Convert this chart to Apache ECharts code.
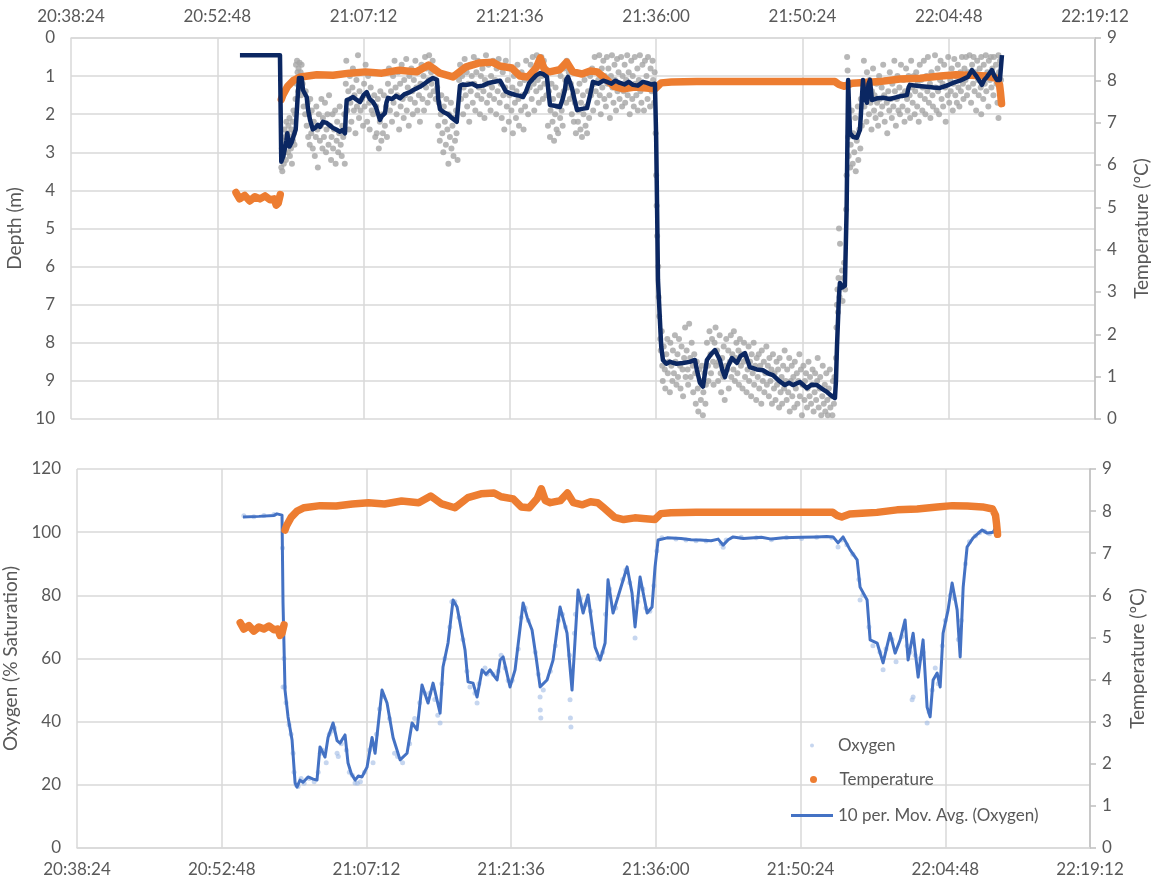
<!DOCTYPE html>
<html>
<head>
<meta charset="utf-8">
<title>Depth, oxygen and temperature</title>
<script src="https://cdn.jsdelivr.net/npm/echarts@6/dist/echarts.min.js"></script>
<style>
  html, body { margin: 0; background: #fff; }
  #chart { width: 1153px; height: 886px; }
</style>
</head>
<body>
<div id="chart"></div>
<script>
// all times are minutes after 20:00

// raw depth readings (m)
const depthRaw = [
  [59.1,3.4],[59.15,2.9],[59.2,3.5],[59.25,3.1],[59.3,2.7],[59.35,3.3],[59.4,2.4],[59.45,3.0],[59.5,2.6],[59.55,3.2],[59.6,2.2],[59.65,2.8],[59.7,2.5],[59.75,3.0],[59.8,2.3],[59.85,2.7],[59.9,2.1],[59.95,3.1],[60.0,2.6],[60.05,2.9],[60.1,2.4],[60.15,3.3],[60.2,2.2],[60.25,2.7],[60.3,1.9],[60.35,2.5],[60.4,2.8],[60.45,2.0],[60.5,1.6],[60.55,0.7],[60.6,1.2],[60.65,0.6],[60.7,0.9],[60.75,1.4],[60.8,0.8],[60.85,1.1],[60.9,0.65],[60.95,1.3],
  [61.0,0.9],[61.05,1.5],[61.1,0.7],[61.2,1.2],[61.3,1.8],[61.35,1.0],[61.45,2.0],[61.5,1.4],[61.6,2.3],[61.7,1.7],[61.75,2.6],[61.85,2.0],[61.9,2.8],[61.95,1.6],
  [62.05,2.5],[62.1,1.9],[62.2,2.9],[62.3,2.2],[62.4,3.1],[62.5,2.6],[62.55,1.8],[62.65,2.4],[62.7,3.4],[62.8,2.0],[62.9,2.7],[63.0,2.3],[63.05,1.6],[63.15,2.9],[63.2,2.1],[63.3,2.6],[63.4,1.7],[63.5,3.0],[63.55,2.4],[63.65,2.0],[63.75,2.8],[63.8,1.5],[63.9,2.3],[64.0,3.2],[64.05,2.6],[64.15,2.0],[64.2,2.9],[64.3,2.4],[64.4,1.9],[64.45,3.3],[64.55,2.7],[64.6,2.2],[64.7,3.0],[64.8,2.5],[64.85,1.8],[64.95,2.8],[65.05,3.1],[65.1,2.3],[65.2,2.6],[65.3,2.0],[65.35,3.3],
  [65.45,1.2],[65.5,0.6],[65.6,1.9],[65.7,1.4],[65.75,2.4],[65.85,1.0],[65.9,1.7],[66.0,2.2],[66.1,1.3],[66.15,0.8],[66.25,1.9],[66.3,1.5],[66.4,2.5],[66.5,1.1],[66.55,1.8],[66.65,0.45],[66.75,2.1],[66.8,1.4],[66.9,1.9],[67.0,0.9],[67.05,1.6],[67.15,2.3],[67.25,1.2],[67.3,1.8],[67.4,0.7],[67.5,1.5],[67.55,2.2],[67.65,1.0],[67.75,1.7],[67.8,2.4],[67.9,1.3],[68.0,1.9],[68.1,0.9],[68.15,2.0],[68.25,1.5],[68.35,2.6],
  [68.45,1.8],[68.5,2.5],[68.6,1.6],[68.7,2.9],[68.8,2.2],[68.85,1.4],[68.95,2.7],[69.05,2.0],[69.1,2.5],[69.2,1.5],[69.3,2.3],[69.4,1.8],[69.5,2.6],
  [69.6,1.2],[69.7,0.8],[69.8,1.9],[69.9,1.4],[70.0,2.2],[70.1,1.0],[70.15,1.7],[70.25,0.6],[70.35,1.3],[70.45,2.0],[70.5,1.5],[70.6,0.9],[70.7,2.4],[70.8,1.2],[70.85,1.8],[70.95,0.7],[71.05,1.6],[71.15,2.1],[71.2,1.1],[71.3,1.5],[71.4,0.55],[71.45,1.9],[71.55,1.3],[71.65,2.3],[71.7,1.0],[71.8,1.6],[71.9,0.8],[72.0,1.4],[72.05,2.0],[72.15,1.1],[72.25,1.7],[72.3,0.6],[72.4,1.3],[72.5,1.9],[72.55,0.9],[72.65,1.5],[72.75,2.2],[72.8,1.2],[72.9,0.7],[73.0,1.6],[73.1,1.0],[73.15,1.9],[73.25,0.5],[73.35,1.3],[73.4,0.8],[73.5,1.7],[73.6,1.1],[73.65,0.45],[73.75,1.5],[73.85,0.9],[73.9,1.2],[74.0,0.6],[74.1,1.4],[74.2,0.8],[74.3,1.6],
  [74.45,1.3],[74.55,2.3],[74.6,1.7],[74.7,2.7],[74.8,2.0],[74.85,1.5],[74.95,2.5],[75.05,3.0],[75.1,1.8],[75.2,2.2],[75.3,2.8],[75.35,1.6],[75.45,2.4],[75.55,3.3],[75.6,2.0],[75.7,2.6],[75.8,1.7],[75.85,2.9],[75.95,2.3],[76.05,3.1],[76.1,2.1],[76.2,2.7],[76.3,1.9],[76.35,2.5],[76.45,3.2],
  [76.6,1.1],[76.7,0.7],[76.8,1.6],[76.9,1.0],[77.0,2.0],[77.05,1.3],[77.15,0.55],[77.25,1.5],[77.35,0.9],[77.4,1.8],[77.5,1.2],[77.6,2.2],[77.7,0.7],[77.75,1.4],[77.85,1.0],[77.95,1.7],[78.05,0.5],[78.1,1.2],[78.2,1.9],[78.3,0.9],[78.4,1.5],[78.45,0.6],[78.55,1.3],[78.65,2.0],[78.75,1.0],[78.8,1.6],[78.9,0.8],[79.0,1.4],[79.1,2.1],[79.15,1.1],[79.25,0.45],[79.35,1.7],[79.45,1.2],[79.5,0.7],[79.6,1.5],[79.7,1.9],[79.75,1.0],[79.85,1.3],[79.95,0.6],[80.05,1.6],[80.15,1.1],[80.25,2.0],[80.3,0.8],[80.4,1.4],[80.5,0.55],
  [80.6,1.7],[80.7,1.2],[80.8,2.1],[80.9,0.9],[80.95,1.5],[81.05,2.4],[81.15,1.3],[81.2,0.6],[81.3,1.8],[81.4,1.1],[81.5,2.2],[81.55,1.5],[81.65,0.8],[81.75,1.9],[81.85,1.3],[81.9,2.5],[82.0,1.0],[82.1,1.7],[82.2,2.1],[82.25,1.4],[82.35,0.7],[82.45,1.6],[82.5,2.3],[82.6,1.2],[82.7,1.9],[82.75,0.9],[82.85,1.5],[82.95,2.4],[83.05,1.1],[83.1,1.8],[83.2,0.6],[83.3,1.4],[83.4,2.0],[83.45,1.0],
  [83.55,1.3],[83.65,0.7],[83.75,1.6],[83.85,0.5],[83.95,1.2],[84.0,1.9],[84.1,0.8],[84.2,1.4],[84.25,0.45],[84.35,1.1],[84.45,1.7],[84.5,0.7],[84.6,1.3],[84.7,0.5],[84.75,1.0],[84.85,1.6],[84.95,0.6],[85.0,1.2],[85.1,0.8],[85.2,1.5],
  [85.35,2.3],[85.45,1.4],[85.55,2.6],[85.6,1.9],[85.7,1.2],[85.8,2.2],[85.85,1.6],[85.95,2.7],[86.05,2.0],[86.1,1.3],[86.2,2.4],[86.3,1.8],[86.35,2.5],[86.45,1.5],[86.55,2.1],[86.6,1.0],[86.7,1.9],[86.8,2.3],
  [86.9,1.4],[86.95,0.8],[87.05,1.1],[87.15,1.7],[87.2,0.6],[87.3,1.3],[87.4,0.9],[87.5,1.6],[87.6,1.2],[87.7,2.0],[87.8,1.5],[87.9,2.2],
  [88.0,1.7],[88.1,2.5],[88.2,1.4],[88.3,2.2],[88.35,1.9],[88.45,1.2],[88.55,2.4],[88.6,1.7],[88.7,2.6],[88.8,1.5],[88.85,2.0],[88.95,1.1],[89.05,2.3],[89.1,1.8],[89.2,2.5],[89.3,1.4],[89.4,2.1],[89.5,1.0],
  [89.6,1.5],[89.7,0.8],[89.8,1.9],[89.9,1.2],[89.95,0.5],[90.05,1.4],[90.15,0.9],[90.2,1.7],[90.3,1.1],[90.4,0.45],[90.45,1.5],[90.55,2.0],[90.65,0.8],[90.7,1.3],[90.8,0.6],[90.9,1.6],[90.95,1.0],[91.05,1.8],[91.15,0.5],[91.2,1.2],[91.3,0.8],[91.4,1.5],[91.45,2.1],[91.55,1.0],[91.65,0.45],[91.7,1.3],[91.8,1.7],[91.9,0.7],[91.95,1.1],[92.05,1.9],[92.15,0.55],[92.2,1.4],[92.3,0.9],[92.4,1.6],[92.45,1.2],[92.55,0.5],[92.65,1.8],[92.7,1.0],[92.8,1.4],[92.9,0.7],[92.95,1.7],[93.05,1.1],[93.15,0.45],[93.2,1.5],[93.3,0.9],[93.4,2.0],[93.45,1.3],[93.55,0.6],[93.65,1.6],[93.7,1.0],[93.8,1.8],[93.9,0.5],[93.95,1.2],[94.05,1.5],[94.15,0.8],[94.2,1.9],[94.3,1.1],[94.4,0.45],[94.45,1.4],[94.55,1.7],[94.65,0.7],[94.7,1.2],[94.8,1.9],[94.9,0.6],[94.95,1.3],[95.05,1.0],[95.15,1.6],[95.2,0.5],[95.3,1.2],[95.4,1.8],[95.45,0.8],[95.55,1.4],[95.65,0.6],[95.7,1.1],[95.8,1.7],[95.85,0.9],
  [95.95,2.5],[96.0,3.6],[96.05,4.4],[96.1,5.2],[96.2,6.0],[96.25,6.8],[96.3,7.3],[96.4,7.9],[96.45,8.2],[96.55,7.7],
  [96.6,8.6],[96.65,9.0],[96.75,8.1],[96.85,8.7],[96.9,9.2],[97.0,8.3],[97.1,7.9],[97.15,8.8],[97.25,8.5],[97.35,9.3],[97.4,8.0],[97.5,8.6],[97.6,9.0],[97.65,8.2],[97.75,8.8],[97.85,7.8],[97.9,8.5],[98.0,9.1],[98.1,8.3],[98.15,8.9],[98.25,7.9],[98.35,8.6],[98.4,9.2],[98.5,8.1],[98.6,8.7],[98.65,9.4],[98.75,8.4],[98.85,7.6],[98.9,8.9],[99.0,8.2],[99.1,8.7],[99.15,9.1],[99.25,7.5],[99.35,8.4],[99.4,8.9],[99.5,8.0],[99.6,8.6],[99.65,9.3],[99.75,8.3],[99.85,8.8],[99.9,9.6],[100.0,8.5],[100.1,9.2],[100.15,9.8],[100.25,8.7],[100.35,9.0],[100.4,9.5],[100.5,8.6],[100.6,9.9],[100.65,9.3],[100.75,8.8],[100.85,9.6],[100.9,9.1],
  [101.0,8.0],[101.1,8.6],[101.15,9.0],[101.25,7.7],[101.35,8.3],[101.4,8.8],[101.5,7.9],[101.6,8.5],[101.65,9.1],[101.75,8.0],[101.85,7.6],[101.9,8.6],[102.0,8.2],[102.1,9.0],[102.15,8.5],[102.25,7.8],[102.35,8.8],[102.4,9.3],[102.5,8.4],[102.6,8.9],[102.65,8.1],[102.75,9.5],[102.85,8.6],[102.9,7.9],[103.0,8.7],[103.1,8.2],[103.15,9.2],[103.25,8.5],[103.35,7.8],[103.4,8.9],[103.5,8.3],[103.6,8.7],[103.65,7.7],[103.75,9.0],[103.85,8.4],[103.9,8.0],[104.0,8.8],[104.1,8.2],[104.15,9.1],[104.25,7.9],[104.35,8.6],[104.4,8.3],[104.5,9.2],[104.6,8.5],[104.65,8.0],[104.75,8.9],[104.85,8.4],[104.9,9.3],[105.0,8.7],[105.1,8.1],[105.15,9.0],[105.25,8.5],[105.35,9.4],[105.4,8.3],[105.5,8.8],[105.6,8.0],[105.65,9.1],[105.75,8.6],[105.85,9.5],[105.9,8.4],
  [106.0,8.9],[106.1,8.3],[106.15,9.2],[106.25,8.6],[106.35,9.6],[106.4,8.2],[106.5,9.0],[106.6,8.5],[106.65,9.3],[106.75,8.8],[106.85,8.1],[106.9,9.1],[107.0,8.6],[107.1,9.4],[107.15,8.4],[107.25,9.0],[107.35,8.7],[107.4,9.6],[107.5,8.3],[107.6,9.2],[107.65,8.8],[107.75,9.5],[107.85,8.5],[107.9,9.1],[108.0,8.7],[108.1,9.7],[108.15,8.4],[108.25,9.3],[108.35,8.9],[108.4,9.6],[108.5,8.6],[108.6,9.2],[108.65,8.2],[108.75,9.0],[108.85,9.5],[108.9,8.7],[109.0,9.3],[109.1,8.4],[109.15,9.8],[109.25,9.0],[109.35,8.6],[109.4,9.4],[109.5,8.9],[109.6,9.7],[109.65,8.5],[109.75,9.2],[109.85,8.8],[109.9,9.6],[110.0,9.0],[110.1,8.3],[110.15,9.4],[110.25,8.7],[110.35,9.9],[110.4,9.1],[110.5,8.6],[110.6,9.5],[110.65,9.0],[110.75,8.8],[110.85,9.7],[110.9,9.2],[111.0,8.5],[111.1,9.4],[111.15,8.9],[111.25,9.6],[111.35,9.1],[111.4,8.7],[111.5,9.8],[111.6,9.3],[111.65,8.8],[111.75,9.5],[111.85,9.0],[111.9,8.4],[112.0,9.7],[112.1,9.2],[112.15,8.9],[112.25,9.9],[112.35,9.4],[112.4,8.6],[112.5,9.6],[112.6,9.1],[112.65,9.8],[112.75,8.8],[112.85,9.5],[112.9,9.9],[113.0,9.2],[113.1,8.7],[113.15,9.7],[113.25,9.4],[113.35,9.9],[113.4,9.0],[113.5,9.6],[113.55,8.9],
  [113.7,8.4],[113.75,7.6],[113.8,7.0],[113.85,6.6],[113.9,7.2],[113.95,6.3],[114.0,5.0],[114.05,6.8],[114.1,5.4],[114.2,6.5],[114.3,6.1],[114.35,6.9],[114.45,6.3],[114.5,5.9],[114.6,6.6],[114.7,4.5],[114.75,3.6],[114.8,0.5],[114.85,0.85],
  [114.9,2.6],[114.95,3.1],[115.0,2.2],[115.1,3.4],[115.15,2.8],[115.25,1.9],[115.35,3.3],[115.4,2.5],[115.5,3.0],[115.6,2.1],[115.65,3.5],[115.75,2.7],[115.85,1.8],[115.9,3.2],[116.0,2.4],[116.1,2.9],[116.15,1.6],[116.25,2.3],
  [116.35,1.2],[116.45,0.6],[116.5,1.8],[116.6,1.3],[116.7,2.2],[116.75,0.9],[116.85,1.6],[116.95,2.0],[117.0,1.1],[117.1,1.7],[117.2,2.4],[117.25,1.4],[117.35,0.8],[117.45,1.9],[117.5,1.5],[117.6,2.1],[117.7,1.2],[117.75,1.7],[117.85,2.3],[117.95,1.0],[118.0,1.6],[118.1,2.0],[118.2,1.3],[118.25,1.8],[118.35,0.7],[118.45,1.5],[118.5,2.2],[118.6,1.1],[118.7,1.7],[118.75,2.5],[118.85,1.4],[118.95,1.9],[119.0,0.9],[119.1,1.6],[119.2,2.1],[119.25,1.2],[119.35,1.8],[119.45,0.6],[119.5,1.4],[119.6,2.3],[119.7,1.6],[119.75,1.0],[119.85,1.9],[119.95,1.3],[120.0,2.0],[120.1,0.7],[120.2,1.5],[120.25,1.8],[120.35,1.1],[120.45,2.2],[120.5,1.4],[120.6,0.8],[120.7,1.6],[120.75,1.9],[120.85,1.0],[120.95,1.5],[121.0,2.1],[121.1,0.6],[121.2,1.3],[121.25,1.7],[121.35,1.0],[121.45,2.0],[121.5,1.4],[121.6,0.9],[121.7,1.8],[121.75,1.2],[121.85,2.2],[121.95,0.7],[122.0,1.5],[122.1,1.1],[122.2,1.9],[122.25,1.3],[122.35,0.6],[122.45,1.6],[122.5,2.0],[122.6,1.0],[122.7,1.4],[122.75,0.5],[122.85,1.7],[122.95,1.2],[123.0,2.1],[123.1,0.9],[123.2,1.5],[123.25,1.8],[123.35,1.0],[123.45,0.45],[123.5,1.3],[123.6,1.9],[123.7,0.8],[123.75,1.4],[123.85,2.0],[123.95,1.1],[124.0,0.6],[124.1,1.6],[124.2,1.2],[124.25,1.8],[124.35,0.7],[124.45,1.3],[124.5,2.2],[124.6,1.0],[124.7,1.5],[124.75,0.5],[124.85,1.7],[124.95,1.1],[125.0,1.4],[125.1,0.8],[125.2,1.9],[125.25,1.2],[125.35,0.55],[125.45,1.5],[125.5,1.0],[125.6,1.7],[125.7,0.7],[125.75,1.3],[125.85,1.8],[125.95,0.9],[126.0,1.4],[126.1,0.5],[126.2,1.2],[126.25,1.6],[126.35,0.8],[126.45,1.1],[126.5,0.5],[126.6,1.5],[126.7,0.9],[126.75,1.3],[126.85,0.45],[126.95,1.0],[127.0,1.7],[127.1,0.7],[127.2,1.2],[127.25,0.5],[127.35,1.4],[127.45,0.9],[127.5,1.9],[127.6,0.6],[127.7,1.1],[127.75,1.5],[127.85,0.8],[127.95,1.3],[128.0,0.5],[128.0,2.0],[128.1,1.0],[128.2,1.6],[128.25,0.7],[128.35,1.2],[128.45,0.45],[128.5,1.4],[128.6,0.9],[128.7,1.8],[128.75,0.6],[128.85,1.1],[128.95,0.5],[129.0,1.3],[129.1,0.8],[129.2,1.5],[129.25,0.5],[129.35,1.0],[129.45,0.7],[129.5,1.2],[129.6,1.7],[129.7,0.45],[129.7,2.1],[129.75,0.9],[129.85,0.6],[129.95,1.1]
];

// 10-period moving average of depth (m)
const depthAvg = [
  [55.03,0.45],[58.97,0.45],[59.1,3.25],[59.3,3.1],[59.46,3.15],[59.6,2.7],[59.69,2.5],[59.9,2.85],[60.1,2.75],[60.25,2.8],[60.4,2.5],[60.52,2.4],[60.7,1.6],[60.84,1.05],[61.0,1.0],[61.11,1.05],[61.24,1.37],[61.4,1.4],[61.6,1.55],[61.75,1.9],[61.93,2.15],[62.2,2.4],[62.42,2.36],[62.7,2.28],[62.91,2.33],[63.2,2.2],[63.57,2.23],[63.9,2.3],[64.19,2.36],[64.5,2.4],[64.88,2.46],[65.1,2.42],[65.37,2.5],[65.45,2.0],[65.54,1.63],[65.8,1.6],[66.16,1.55],[66.5,1.62],[66.85,1.68],[67.2,1.5],[67.51,1.42],[67.8,1.6],[68.13,1.68],[68.4,1.8],[68.81,2.15],[69.0,2.05],[69.31,1.97],[69.45,1.7],[69.6,1.57],[70.0,1.6],[70.4,1.52],[70.78,1.58],[71.2,1.48],[71.77,1.42],[72.2,1.35],[72.75,1.28],[73.2,1.2],[73.6,1.12],[74.03,1.05],[74.43,1.1],[74.55,1.6],[74.72,1.87],[75.1,1.95],[75.51,2.0],[75.9,2.1],[76.37,2.2],[76.5,1.8],[76.69,1.25],[77.0,1.22],[77.35,1.23],[77.9,1.2],[78.4,1.27],[78.95,1.25],[79.5,1.18],[80.1,1.15],[80.63,1.12],[80.9,1.25],[81.2,1.4],[81.61,1.45],[82.2,1.5],[82.6,1.52],[82.89,1.55],[83.2,1.4],[83.5,1.18],[83.78,1.1],[84.2,0.98],[84.56,0.92],[84.9,0.95],[85.25,1.02],[85.4,1.4],[85.55,1.76],[86.0,1.78],[86.53,1.81],[86.8,1.6],[87.02,1.36],[87.15,1.1],[87.32,1.02],[87.5,1.15],[87.71,1.31],[87.95,1.6],[88.21,1.89],[88.7,1.86],[89.19,1.84],[89.5,1.5],[89.78,1.15],[90.3,1.2],[90.8,1.12],[91.16,1.15],[91.6,1.2],[92.0,1.12],[92.44,1.18],[92.9,1.22],[93.3,1.15],[93.72,1.23],[94.2,1.25],[94.7,1.15],[95.1,1.18],[95.5,1.22],[95.88,1.2],
  [96.0,2.6],[96.1,4.6],[96.18,6.35],[96.37,7.4],[96.5,8.1],[96.67,8.45],[97.0,8.55],[97.36,8.5],[98.0,8.55],[98.64,8.53],[99.3,8.5],[99.82,8.45],[100.0,8.7],[100.31,9.05],[100.61,9.15],[100.8,8.8],[101.0,8.45],[101.4,8.3],[101.79,8.19],[102.28,8.45],[102.5,8.7],[102.77,8.9],[103.1,8.6],[103.46,8.4],[103.95,8.53],[104.3,8.35],[104.74,8.27],[105.23,8.64],[105.9,8.7],[106.51,8.72],[107.0,8.8],[107.5,8.85],[108.1,9.0],[108.68,9.11],[109.1,9.05],[109.47,9.11],[110.15,9.03],[110.84,9.19],[111.3,9.1],[111.83,9.11],[112.3,9.2],[112.81,9.29],[113.2,9.38],[113.6,9.45],
  [113.7,9.0],[113.8,8.11],[113.99,6.8],[114.09,6.43],[114.3,6.55],[114.58,6.5],[114.75,4.5],[114.9,1.1],[115.0,1.9],[115.08,2.49],[115.4,2.6],[115.77,2.62],[116.06,2.41],[116.2,1.8],[116.36,1.1],[116.55,1.6],[116.75,1.7],[116.9,1.2],[117.05,1.1],[117.24,1.63],[117.8,1.58],[118.33,1.57],[119.0,1.6],[119.7,1.55],[120.2,1.52],[120.69,1.5],[120.85,1.3],[120.98,1.23],[121.8,1.26],[122.66,1.28],[123.3,1.3],[123.93,1.31],[124.6,1.25],[125.21,1.18],[125.9,1.12],[126.69,1.02],[127.08,0.84],[127.58,1.02],[128.07,1.23],[128.3,1.1],[128.56,1.02],[129.05,0.84],[129.3,1.0],[129.55,1.1],[129.84,1.1],[130.04,0.45]
];

// raw oxygen readings (% saturation)
const oxygenRaw = [
  [55.0,105.2],[56.0,104.9],[57.0,105.3],[58.0,105.6],[58.85,95],[58.9,51],[58.95,70],[59.0,60],[59.05,51],[59.2,46],[59.5,39],[59.7,36],[59.9,30],[60.0,24],[60.2,20],[60.4,19.5],[60.7,22],[61.0,20.5],[61.5,22],[62.0,21],[62.4,24],[62.6,30],[62.8,31],[63.2,27],[63.5,36],[63.7,37],[64.0,38],[64.28,30],[64.4,29],[64.7,33],[65.2,31],[65.5,24],[65.8,23],[66.07,20.6],[66.3,20.5],[66.6,21],[67.0,24],[67.5,31],[67.86,27],[67.9,33],[68.2,36],[68.5,44],[68.9,48],[69.5,41],[70.0,30],[70.3,29],[70.8,27],[71.5,33],[72.0,41],[72.5,46],[73.0,49],[73.5,49],[74.0,47],[74.3,42],[74.53,39.6],[74.7,52],[75.0,60],[75.5,70],[75.7,78],[76.0,78],[76.4,73],[76.8,66],[77.2,56],[77.5,51],[78.0,49],[78.21,45.9],[78.4,52],[79.0,57],[79.2,55],[79.8,55],[80.3,56],[80.6,61],[81.0,57],[81.3,53],[81.7,53],[82.3,63],[82.6,73],[83.0,76],[83.3,72],[84.0,62],[84.3,55],[84.48,47.8],[84.5,43.7],[84.55,41.2],[84.8,50],[85.5,56],[86.0,64],[86.3,72],[86.7,74],[87.0,70],[87.4,61],[87.46,46.9],[87.5,41.2],[87.55,38.3],[87.9,68],[88.0,74],[88.5,79],[89.0,77],[89.5,75],[89.7,68],[90.2,60],[90.7,62],[91.0,74],[91.4,82],[92.0,76],[92.7,85],[93.0,88],[93.4,84],[93.93,66.5],[94.2,78],[94.7,82],[95.0,76],[95.4,75],[95.8,83],[96.1,94],[96.6,98.2],[98.0,97.8],[99.0,97.5],[100.0,97.3],[101.0,97.2],[102.5,96.3],[102.7,95.2],[103.0,97.5],[104.5,98.4],[106.0,98.2],[107.5,97.6],[109.0,98.3],[110.5,98.0],[112.0,98.4],[113.5,98.2],[114.13,95.3],[114.5,97.5],[115.0,96],[115.6,93],[116.2,85],[116.32,78.5],[116.6,80],[117.2,70],[117.6,64],[118.3,62],[118.61,56.4],[118.9,63],[119.5,66],[119.9,59],[120.5,67],[121.0,64],[121.3,62],[121.5,46.9],[121.6,47.8],[121.8,61],[122.3,60],[122.6,62],[122.99,39.6],[123.2,43],[123.5,50],[123.8,57],[124.1,52],[124.5,64],[124.8,72],[125.3,80],[125.7,79],[126.1,66],[126.4,72],[126.8,90],[127.2,97],[127.8,98.8],[128.2,99.8],[128.7,100.3],[129.2,99.5],[129.8,101.5]
];

// 10-period moving average of oxygen (% saturation)
const oxygenAvg = [
  [54.92,104.8],[56.5,105.0],[58.0,105.3],[58.3,105.8],[58.8,105.4],[58.9,77.6],[59.1,50],[59.4,41.5],[59.8,34.2],[60.1,20.6],[60.29,19.3],[60.59,21.5],[60.89,20.8],[61.39,22.5],[61.9,21.8],[62.28,21.5],[62.58,32],[63.08,28.8],[63.38,35],[63.88,39.6],[64.28,34],[64.57,33.2],[65.07,35.8],[65.37,26.9],[65.7,23.5],[66.07,21.5],[66.4,22.8],[66.76,22.5],[67.26,25.6],[67.76,35],[68.06,30],[68.75,50],[69.25,45.9],[69.85,35],[70.55,27.9],[71.24,30],[71.74,39.6],[72.24,37.4],[72.73,51.6],[73.33,45.9],[73.83,52.2],[74.53,42.7],[74.82,57.3],[75.32,64.9],[75.82,78.5],[76.22,76.3],[76.52,71.2],[77.01,62.7],[77.31,52.6],[77.81,52.2],[78.21,47.8],[78.71,56.4],[79.1,55],[79.5,56.4],[79.9,54.5],[80.2,53.2],[80.5,59.5],[80.8,60.5],[81.49,51],[81.99,56.4],[82.79,77.6],[83.2,73],[83.68,69],[84.1,60],[84.48,51],[85.17,53.2],[85.77,59.5],[86.47,76.3],[87.16,68],[87.66,50],[88.26,81.7],[88.76,74.4],[89.25,80.1],[89.95,63.6],[90.45,59.5],[90.95,64.9],[91.24,84.9],[91.74,74.4],[92.44,81.7],[93.14,89],[93.63,80.7],[93.93,70],[94.43,85.8],[95.13,74.4],[95.62,76.3],[95.92,89],[96.22,97.5],[97.12,98.2],[98.5,98.0],[99.5,97.6],[100.4,97.5],[101.5,97.3],[102.2,97.8],[102.69,95.9],[103.2,97.6],[103.69,98.5],[104.7,98.0],[106.5,98.4],[107.5,97.8],[108.66,98.2],[110.5,98.4],[112.0,98.5],[113.0,98.6],[113.64,98.5],[114.13,96.6],[114.63,98.5],[115.33,94.4],[116.03,91.2],[116.32,82.6],[117.02,78.5],[117.32,65.9],[118.02,64.9],[118.61,58.6],[119.31,68],[119.81,61.7],[120.31,65.9],[120.8,72.2],[121.1,59.5],[121.6,68],[122.1,54.1],[122.59,65.9],[122.99,44.6],[123.29,41.5],[123.59,53.2],[123.99,55.4],[124.29,51],[124.58,68],[125.08,75.4],[125.48,83.9],[125.98,75.4],[126.28,60.5],[126.58,82.6],[126.97,95.3],[127.57,98.2],[128.47,100.7],[128.96,99.7],[129.56,100],[129.96,102.3],[130.06,99.5]
];

// water temperature (ºC); null marks the gap in the record
const temperature = [
  [54.64,5.35],[55.0,5.2],[55.5,5.28],[56.0,5.15],[56.5,5.25],[57.0,5.2],[57.5,5.27],[58.0,5.18],[58.4,5.2],[58.6,5.05],[58.8,5.1],[59.0,5.3],
  [59.05,null],
  [59.1,7.55],[59.25,7.65],[59.7,7.85],[60.3,8.0],[61.0,8.08],[62.6,8.13],[64.2,8.12],[65.8,8.17],[67.4,8.2],[69.0,8.17],[70.7,8.24],[72.4,8.2],[73.6,8.36],[74.7,8.17],[76.0,8.08],[77.3,8.32],[78.6,8.41],[79.9,8.43],[80.6,8.34],[81.8,8.29],[82.6,8.1],[83.4,8.08],[84.2,8.3],[84.6,8.53],[85.0,8.25],[85.5,8.2],[86.5,8.25],[87.2,8.43],[87.8,8.2],[88.7,8.15],[89.5,8.22],[90.2,8.2],[90.8,8.08],[91.9,7.85],[92.8,7.8],[93.9,7.84],[95.0,7.82],[95.9,7.8],[96.5,7.94],[97.5,7.96],[100.0,7.97],[105.0,7.97],[110.0,7.97],[113.6,7.97],[114.0,7.9],[114.5,7.86],[115.3,7.93],[116.5,7.95],[118.0,7.97],[120.0,8.03],[122.0,8.05],[124.0,8.1],[125.5,8.13],[127.0,8.12],[128.5,8.1],[129.5,8.05],[129.8,7.9],[129.9,7.7],[130.0,7.45]
];

// time axis: 20:38:24 to 22:19:12 every 14 min 24 s (seconds after midnight)
const timeMin = 74304;
const timeMax = 80352;
const timeStep = 864;

const toSec = m => 72000 + m * 60;
const prep = arr => arr.map(p => [toSec(p[0]), p[1] == null ? '-' : p[1]]);

function clock(v) {
  const s = Math.round(v);
  const pad = n => String(n).padStart(2, '0');
  return pad(Math.floor(s / 3600)) + ':' + pad(Math.floor(s % 3600 / 60)) + ':' + pad(s % 60);
}

const txt = '#595959';
const font = 'Lato, "Open Sans", sans-serif';
const gridLine = { show: true, lineStyle: { color: '#d9d9d9', width: 1.5 } };

function timeAxis(gridIndex, position) {
  return {
    type: 'value', gridIndex, position,
    min: timeMin, max: timeMax, interval: timeStep,
    axisLine: { show: true, lineStyle: { color: '#d9d9d9', width: 1.5 } },
    axisTick: { show: false },
    axisLabel: { color: txt, fontSize: 17, fontFamily: font, margin: 13, formatter: clock },
    splitLine: gridLine
  };
}

function tempAxis(gridIndex, gap) {
  return {
    type: 'value', gridIndex, position: 'right',
    min: 0, max: 9, interval: 1,
    name: 'Temperature (ºC)', nameLocation: 'middle', nameGap: gap, nameRotate: 90,
    nameTextStyle: { color: txt, fontSize: 19, fontFamily: font },
    axisLine: { show: true, lineStyle: { color: '#bfbfbf', width: 1.5 } },
    axisTick: { show: true, length: 6, lineStyle: { color: '#bfbfbf', width: 1.5 } },
    axisLabel: { color: txt, fontSize: 17, fontFamily: font, margin: 12 },
    splitLine: { show: false }
  };
}

const chart = echarts.init(document.getElementById('chart'), null, { renderer: 'canvas' });

chart.setOption({
  backgroundColor: '#ffffff',
  animation: false,
  textStyle: { fontFamily: font },
  grid: [
    { left: 71, right: 58, top: 38, height: 381, containLabel: false, outerBoundsMode: 'none' },
    { left: 77, right: 63, top: 469, height: 379, containLabel: false, outerBoundsMode: 'none' }
  ],
  xAxis: [timeAxis(0, 'top'), timeAxis(1, 'bottom')],
  yAxis: [
    {
      type: 'value', gridIndex: 0, position: 'left', inverse: true,
      min: 0, max: 10, interval: 1,
      name: 'Depth (m)', nameLocation: 'middle', nameGap: 40,
      nameTextStyle: { color: txt, fontSize: 19, fontFamily: font },
      axisLine: { show: false }, axisTick: { show: false },
      axisLabel: { color: txt, fontSize: 17, fontFamily: font, margin: 16 },
      splitLine: gridLine
    },
    tempAxis(0, 37),
    {
      type: 'value', gridIndex: 1, position: 'left',
      min: 0, max: 120, interval: 20,
      name: 'Oxygen (% Saturation)', nameLocation: 'middle', nameGap: 48,
      nameTextStyle: { color: txt, fontSize: 19, fontFamily: font },
      axisLine: { show: false }, axisTick: { show: false },
      axisLabel: { color: txt, fontSize: 17, fontFamily: font, margin: 16 },
      splitLine: gridLine
    },
    tempAxis(1, 38)
  ],
  legend: [
    {
      left: 805, top: 732, itemWidth: 42, itemHeight: 4, selectedMode: false,
      textStyle: { color: txt, fontSize: 17, fontFamily: font },
      data: [{ name: 'Oxygen', icon: 'circle' }]
    },
    {
      left: 805, top: 766, itemWidth: 42, itemHeight: 7, selectedMode: false,
      textStyle: { color: txt, fontSize: 17, fontFamily: font },
      data: [{ name: 'Temperature', icon: 'circle' }]
    },
    {
      left: 786, top: 802, itemWidth: 42, itemHeight: 3, selectedMode: false,
      textStyle: { color: txt, fontSize: 17, fontFamily: font },
      data: [{ name: '10 per. Mov. Avg. (Oxygen)', icon: 'rect' }]
    }
  ],
  series: [
    {
      name: 'Depth', type: 'scatter', xAxisIndex: 0, yAxisIndex: 0,
      data: prep(depthRaw), symbolSize: 6,
      itemStyle: { color: '#a5a5a5' }, z: 1
    },
    {
      name: 'Temperature', type: 'line', xAxisIndex: 0, yAxisIndex: 1,
      data: prep(temperature), symbol: 'none', connectNulls: false,
      color: '#ed7d31',
      lineStyle: { color: '#ed7d31', width: 7.5, cap: 'round', join: 'round' }, z: 2
    },
    {
      name: 'Depth avg', type: 'line', xAxisIndex: 0, yAxisIndex: 0,
      data: prep(depthAvg), symbol: 'none',
      lineStyle: { color: '#0b2762', width: 4.5, join: 'round' }, z: 3
    },
    {
      name: 'Oxygen', type: 'scatter', xAxisIndex: 1, yAxisIndex: 2,
      data: prep(oxygenRaw), symbolSize: 5,
      itemStyle: { color: 'rgba(160,186,228,0.75)' }, z: 1
    },
    {
      name: '10 per. Mov. Avg. (Oxygen)', type: 'line', xAxisIndex: 1, yAxisIndex: 2,
      data: prep(oxygenAvg), symbol: 'none', color: '#4472c4',
      lineStyle: { color: '#4472c4', width: 3, join: 'round' }, z: 2
    },
    {
      name: 'Temperature', type: 'line', xAxisIndex: 1, yAxisIndex: 3,
      data: prep(temperature), symbol: 'none', connectNulls: false,
      color: '#ed7d31',
      lineStyle: { color: '#ed7d31', width: 7.5, cap: 'round', join: 'round' }, z: 3
    }
  ]
});
</script>
</body>
</html>
